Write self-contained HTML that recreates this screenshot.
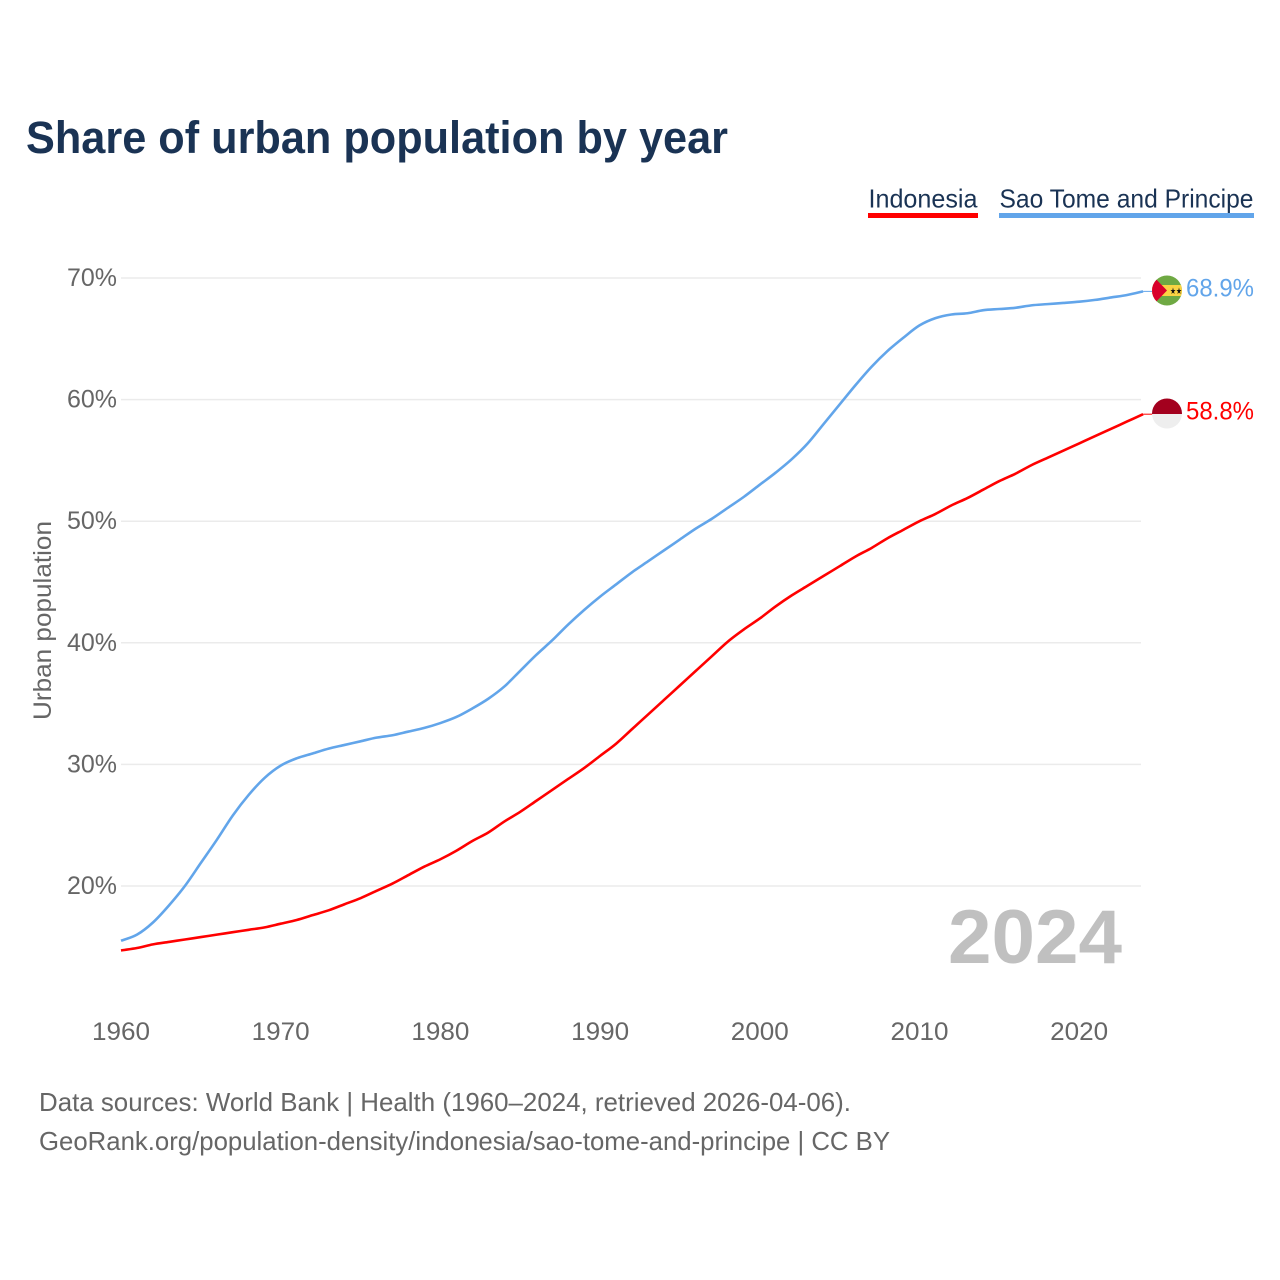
<!DOCTYPE html>
<html lang="en">
<head>
<meta charset="utf-8">
<title>Share of urban population by year</title>
<style>
html,body{margin:0;padding:0;background:#fff;width:1280px;height:1280px;overflow:hidden}
svg{display:block}
text{font-family:"Liberation Sans",sans-serif}
</style>
</head>
<body>
<svg id="chart" xmlns="http://www.w3.org/2000/svg" width="1280" height="1280" viewBox="0 0 1280 1280">
  <text x="26" y="153" font-size="45" font-weight="700" fill="#1a3354" textLength="702" lengthAdjust="spacingAndGlyphs">Share of urban population by year</text>

  <g>
    <text x="868.500" y="207.500" font-size="26" fill="#1a3354" textLength="109" lengthAdjust="spacingAndGlyphs">Indonesia</text>
    <rect x="868" y="213" width="110" height="5" fill="#ff0000"></rect>
  </g>
  <g>
    <text x="999.500" y="207.500" font-size="26" fill="#1a3354" textLength="254" lengthAdjust="spacingAndGlyphs">Sao Tome and Principe</text>
    <rect x="999" y="213" width="255" height="5" fill="#62a5ea"></rect>
  </g>

  <g id="grid"></g>
  <g id="yticks"></g>
  <g id="xticks"></g>
  <text transform="translate(51,720) rotate(-90)" font-size="25" fill="#666666" textLength="199" lengthAdjust="spacingAndGlyphs">Urban population</text>
  <text x="948" y="963" font-size="76" font-weight="700" fill="#c0c0c0" textLength="174" lengthAdjust="spacingAndGlyphs">2024</text>

  <g id="series"></g>

  <g id="flag-sao-tome">
    <clipPath id="clip-st"><circle cx="1167" cy="290.500" r="15"></circle></clipPath>
    <g clip-path="url(#clip-st)">
      <rect x="1152" y="275" width="30" height="31" fill="#6fa943"></rect>
      <rect x="1152" y="285" width="30" height="11" fill="#fbd343"></rect>
      <polygon points="1152,275 1167,290.500 1152,306" fill="#d9002b"></polygon>
    </g>
    <text x="1170" y="294" font-size="9" fill="#111111" textLength="12" lengthAdjust="spacingAndGlyphs" font-family="DejaVu Sans">★★</text>
  </g>
  <g id="flag-indonesia">
    <clipPath id="clip-id"><circle cx="1167" cy="413.500" r="15"></circle></clipPath>
    <g clip-path="url(#clip-id)">
      <rect x="1152" y="398" width="30" height="16" fill="#a3001e"></rect>
      <rect x="1152" y="414" width="30" height="16" fill="#eeeeee"></rect>
    </g>
  </g>

  <text x="1186" y="296.500" font-size="25" fill="#62a5ea" textLength="68" lengthAdjust="spacingAndGlyphs" id="end-st"></text>
  <text x="1186" y="419.500" font-size="25" fill="#ff0000" textLength="68" lengthAdjust="spacingAndGlyphs" id="end-id"></text>

  <text x="39" y="1111" font-size="26" fill="#666666" textLength="812" lengthAdjust="spacingAndGlyphs">Data sources: World Bank | Health (1960–2024, retrieved 2026-04-06).</text>
  <text x="39" y="1150" font-size="26" fill="#666666" textLength="851" lengthAdjust="spacingAndGlyphs">GeoRank.org/population-density/indonesia/sao-tome-and-principe | CC BY</text>
</svg>
<script>
const years = [1960,1961,1962,1963,1964,1965,1966,1967,1968,1969,1970,1971,1972,1973,1974,1975,1976,1977,1978,1979,1980,1981,1982,1983,1984,1985,1986,1987,1988,1989,1990,1991,1992,1993,1994,1995,1996,1997,1998,1999,2000,2001,2002,2003,2004,2005,2006,2007,2008,2009,2010,2011,2012,2013,2014,2015,2016,2017,2018,2019,2020,2021,2022,2023,2024];
const saoTome = [15.5,16.0,17.0,18.4,20.0,21.9,23.8,25.8,27.5,28.9,29.9,30.5,30.9,31.3,31.6,31.9,32.2,32.4,32.7,33.0,33.4,33.9,34.6,35.4,36.4,37.7,39.0,40.2,41.5,42.7,43.8,44.8,45.8,46.7,47.6,48.5,49.4,50.2,51.1,52.0,53.0,54.0,55.1,56.4,58.0,59.6,61.2,62.7,64.0,65.1,66.1,66.7,67.0,67.1,67.35,67.45,67.55,67.75,67.85,67.95,68.05,68.2,68.4,68.6,68.9];
const indonesia = [14.7,14.9,15.2,15.4,15.6,15.8,16.0,16.2,16.4,16.6,16.9,17.2,17.6,18.0,18.5,19.0,19.6,20.2,20.9,21.6,22.2,22.9,23.7,24.4,25.3,26.1,27.0,27.9,28.8,29.7,30.7,31.7,32.9,34.1,35.3,36.5,37.7,38.9,40.1,41.1,42.0,43.0,43.9,44.7,45.5,46.3,47.1,47.8,48.6,49.3,50.0,50.6,51.3,51.9,52.6,53.3,53.9,54.6,55.2,55.8,56.4,57.0,57.6,58.2,58.8];
const yTickValues = [20,30,40,50,60,70];
const xTickValues = [1960,1970,1980,1990,2000,2010,2020];

const NS = 'http://www.w3.org/2000/svg';
function xScale(year){ return 121 + (year - 1960) * 15.97; }
function yScale(pct){ return 278 + (70 - pct) * 12.16; }
function make(tag, attrs, parent){
  const el = document.createElementNS(NS, tag);
  for (const k in attrs) el.setAttribute(k, attrs[k]);
  parent.appendChild(el);
  return el;
}

const grid = document.getElementById('grid');
const yticks = document.getElementById('yticks');
yTickValues.forEach(function(v){
  const line = make('line', {x1:121, x2:1141, y1:yScale(v), y2:yScale(v), stroke:'#ebebeb', 'stroke-width':1.500}, grid);
  
  
  const t = make('text', {x:117, y:yScale(v) + 8, 'font-size':25, fill:'#666666', 'text-anchor':'end', textLength:50, lengthAdjust:'spacingAndGlyphs'}, yticks);
  
  
  t.textContent = v + '%';
});

const xticks = document.getElementById('xticks');
xTickValues.forEach(function(v){
  const t = make('text', {x:xScale(v), y:1040, 'font-size':25, fill:'#666666', 'text-anchor':'middle', textLength:58, lengthAdjust:'spacingAndGlyphs'}, xticks);
  
  
  t.textContent = v;
});

function smoothPath(values){
  const pts = values.map(function(v, i){ return [xScale(years[i]), yScale(v)]; });
  let d = 'M' + pts[0][0].toFixed(2) + ' ' + pts[0][1].toFixed(2);
  for (let i = 0; i < pts.length - 1; i++) {
    const p0 = pts[Math.max(i - 1, 0)];
    const p1 = pts[i];
    const p2 = pts[i + 1];
    const p3 = pts[Math.min(i + 2, pts.length - 1)];
    const c1x = p1[0] + (p2[0] - p0[0]) / 6;
    const c1y = p1[1] + (p2[1] - p0[1]) / 6;
    const c2x = p2[0] - (p3[0] - p1[0]) / 6;
    const c2y = p2[1] - (p3[1] - p1[1]) / 6;
    d += ' C' + c1x.toFixed(2) + ' ' + c1y.toFixed(2) + ' ' + c2x.toFixed(2) + ' ' + c2y.toFixed(2) + ' ' + p2[0].toFixed(2) + ' ' + p2[1].toFixed(2);
  }
  return d;
}

function drawSeries(values, color, name){
  const g = document.getElementById('series');
  const path = make('path', {d:smoothPath(values), fill:'none', stroke:color, 'stroke-width':2.600, 'stroke-linejoin':'round'}, g);
  
  
  const last = values[values.length - 1];
  const lx = xScale(years[years.length - 1]);
  const ly = yScale(last);
  const conn = make('line', {x1:lx, x2:1153, y1:ly, y2:ly, stroke:color, 'stroke-width':1}, g);
  
  
}
drawSeries(saoTome, '#62a5ea', 'sao-tome-and-principe');
drawSeries(indonesia, '#ff0000', 'indonesia');

document.getElementById('end-st').textContent = saoTome[saoTome.length - 1].toFixed(1) + '%';
document.getElementById('end-id').textContent = indonesia[indonesia.length - 1].toFixed(1) + '%';
</script>
</body>
</html>
